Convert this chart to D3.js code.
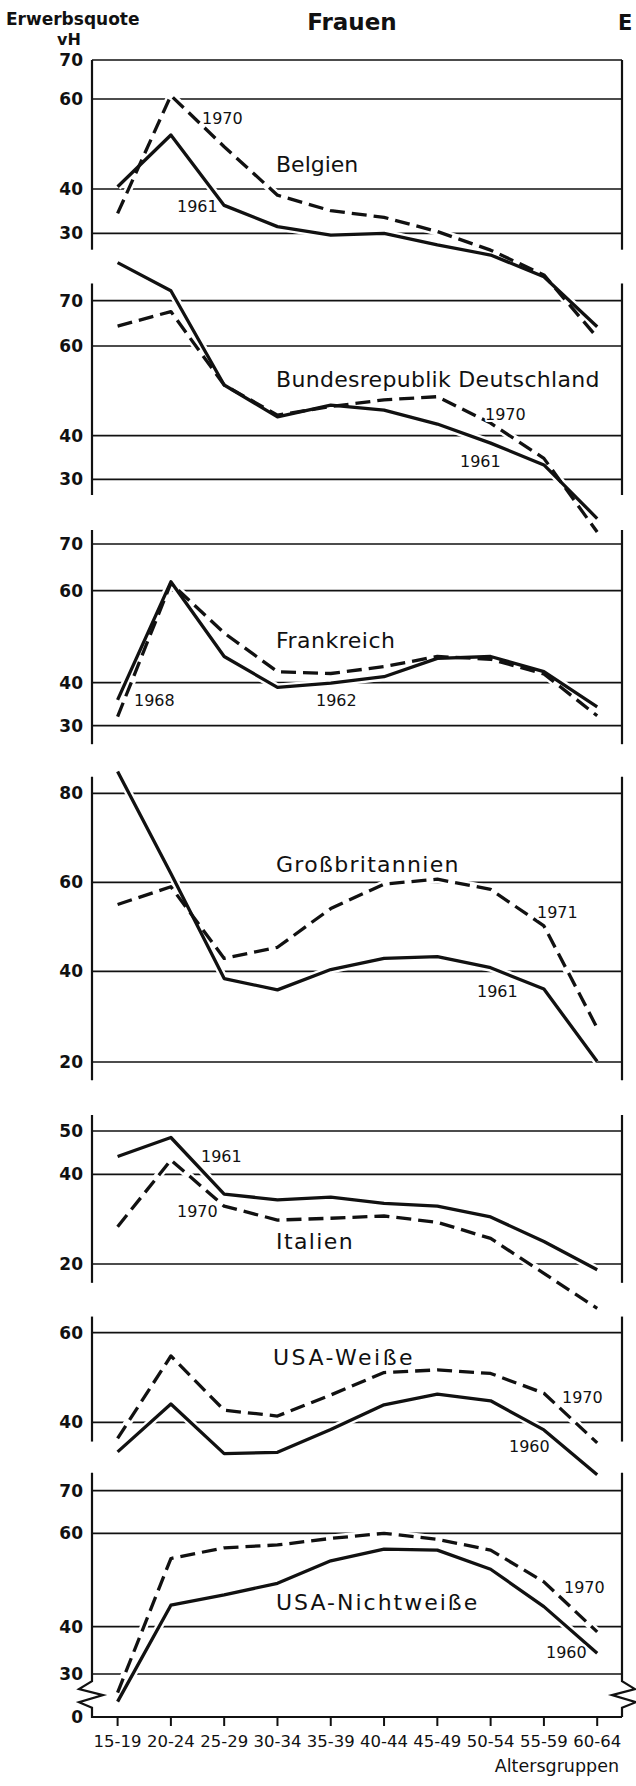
<!DOCTYPE html>
<html><head><meta charset="utf-8">
<script src="https://cdn.jsdelivr.net/npm/d3@7"></script>
<style>
body{margin:0;background:#fff}
svg{display:block;background:#fff}
text{font-family:"DejaVu Sans",sans-serif;fill:#111}
</style>
</head><body>
<svg id="chart" width="636" height="1786"></svg>
<script>
// ---------------- data ----------------
const ageGroups = ["15-19","20-24","25-29","30-34","35-39","40-44","45-49","50-54","55-59","60-64"];

const belgien1961 = [40.5, 52.0, 36.3, 31.5, 29.6, 30.0, 27.4, 25.1, 20.2, 8.9];
const belgien1970 = [34.5, 60.9, 49.4, 38.6, 35.1, 33.6, 30.4, 26.2, 20.6, 6.5];

const brd1961 = [78.4, 72.2, 51.3, 44.2, 46.8, 45.7, 42.6, 38.3, 33.3, 21.0];
const brd1970 = [64.4, 67.6, 51.3, 44.6, 46.5, 48.0, 48.7, 42.8, 34.8, 17.9];

const frankreich1962 = [36.0, 61.9, 45.7, 38.9, 39.9, 41.3, 45.3, 45.7, 42.4, 34.4];
const frankreich1968 = [32.1, 61.6, 50.8, 42.4, 42.0, 43.5, 45.7, 45.1, 41.9, 32.3];

const gb1961 = [84.9, 62.0, 38.4, 35.9, 40.4, 42.9, 43.3, 40.8, 36.1, 20.1];
const gb1971 = [55.0, 59.0, 42.9, 45.4, 54.1, 59.6, 60.7, 58.4, 50.2, 27.5];

const italien1961 = [44.1, 48.5, 35.6, 34.3, 34.9, 33.5, 32.9, 30.5, 25.0, 18.7];
const italien1970 = [28.3, 43.3, 32.9, 29.8, 30.2, 30.7, 29.3, 25.7, 17.9, 10.1];

const usaWeisse1960 = [33.4, 44.1, 33.0, 33.3, 38.4, 43.9, 46.3, 44.8, 38.3, 28.3];
const usaWeisse1970 = [36.4, 54.8, 42.7, 41.4, 46.1, 51.1, 51.7, 50.9, 46.5, 35.4];

const usaNichtweisse1960 = [10.7, 44.6, 46.8, 49.3, 54.1, 56.6, 56.4, 52.3, 44.3, 34.4];
const usaNichtweisse1970 = [17.0, 54.6, 56.9, 57.5, 58.9, 60.0, 58.7, 56.4, 49.6, 38.9];

const panelNames = ["Belgien","Bundesrepublik Deutschland","Frankreich","Großbritannien","Italien","USA-Weiße","USA-Nichtweiße"];
const solidYears  = ["1961","1961","1962","1961","1961","1960","1960"];
const dashedYears = ["1970","1970","1968","1971","1970","1970","1970"];
const solidSeries  = [belgien1961, brd1961, frankreich1962, gb1961, italien1961, usaWeisse1960, usaNichtweisse1960];
const dashedSeries = [belgien1970, brd1970, frankreich1968, gb1971, italien1970, usaWeisse1970, usaNichtweisse1970];
const yTicks = [[30,40,60,70],[30,40,60,70],[30,40,60,70],[20,40,60,80],[20,40,50],[40,60],[30,40,60,70]];

const titleText = "Frauen";
const yAxisTitle = "Erwerbsquote";
const yAxisUnit = "vH";
const xAxisTitle = "Altersgruppen";
const edgeText = "E";

// ---------------- layout (positions only) ----------------
const axisX = [92, 622];
const xRange = [117.6, 597.2];
const panelLayout = [
  {gridPx:[233.3,189,99,60],        ext:[26.3,70],   name:[276,171.7], solidLbl:[177,211.7], dashLbl:[202,124],  ls:0},
  {gridPx:[479.3,435.7,346,300.7],  ext:[26.4,73.8], name:[276,386.7], solidLbl:[460,466.7], dashLbl:[485,420],  ls:0.3},
  {gridPx:[725.7,682.7,590.7,544],  ext:[25.7,73],   name:[276,648],   solidLbl:[316,706],   dashLbl:[134,706],  ls:0.5},
  {gridPx:[1062,971.3,882.3,793.3], ext:[16,83.7],   name:[276,871.7], solidLbl:[477,996.7], dashLbl:[537,918],  ls:1.3},
  {gridPx:[1264,1174.3,1131],       ext:[15.8,53.7], name:[276,1249],  solidLbl:[201,1161.7],dashLbl:[177,1216.7],ls:1.4},
  {gridPx:[1422.3,1332.7],          ext:[35.7,63.6], name:[273,1365],  solidLbl:[509,1451.7],dashLbl:[562,1403], ls:2.5},
  {gridPx:[1674,1626.7,1533.3,1490.7], ext:[0,74.2], name:[276,1610],  solidLbl:[546,1658],  dashLbl:[564,1593], ls:2}
];
const bottomPanel = 6;
const bottomZeroPx = 1717;

// ---------------- drawing ----------------
const svg = d3.select("#chart");
const x = d3.scalePoint().domain(ageGroups).range(xRange);

const gGrid = svg.append("g");
const gAxis = svg.append("g");
const gHalo = svg.append("g");
const gLines = svg.append("g");
const gText = svg.append("g");

panelNames.forEach((name, i) => {
  const L = panelLayout[i];
  const ticks = yTicks[i];
  let dom = ticks.slice(), rng = L.gridPx.slice();
  if (i === bottomPanel) { dom = [0].concat(dom); rng = [bottomZeroPx].concat(rng); }
  const y = d3.scaleLinear().domain(dom).range(rng);

  // gridlines
  gGrid.selectAll(null).data(ticks).enter().append("line")
    .attr("x1", axisX[0]).attr("x2", axisX[1])
    .attr("y1", d => y(d)).attr("y2", d => y(d))
    .attr("stroke", "#111").attr("stroke-width", 1.7);

  // y tick labels
  const lblTicks = (i === bottomPanel) ? [0].concat(ticks) : ticks;
  gText.selectAll(null).data(lblTicks).enter().append("text")
    .attr("x", 83).attr("y", d => y(d)).attr("dy", "0.36em")
    .attr("text-anchor", "end").attr("font-size", 17).attr("font-weight", "bold")
    .text(d => d);

  // vertical axes
  if (i !== bottomPanel) {
    axisX.forEach(ax => {
      gAxis.append("line").attr("x1", ax).attr("x2", ax)
        .attr("y1", y(L.ext[0])).attr("y2", y(L.ext[1]))
        .attr("stroke", "#111").attr("stroke-width", 2.2);
    });
  } else {
    const yTop = y(L.ext[1]), yb1 = y(25), yb2 = y(6.5), y0 = y(0);
    const zl = axisX[0];
    gAxis.append("path")
      .attr("d", `M${zl},${yTop}L${zl},${yb1}L${zl-13},${yb1+8}L${zl+11},${yb1+14}L${zl-13},${yb1+21}L${zl},${yb2}L${zl},${y0}L${axisX[1]},${y0}`)
      .attr("fill", "none").attr("stroke", "#111").attr("stroke-width", 2.2).attr("stroke-linejoin", "miter");
    const zr = axisX[1];
    gAxis.append("path")
      .attr("d", `M${zr},${yTop}L${zr},${yb1}L${zr+13},${yb1+8}L${zr-10},${yb1+14}L${zr+14},${yb1+21}L${zr},${yb2}L${zr},${y0}`)
      .attr("fill", "none").attr("stroke", "#111").attr("stroke-width", 2.2);
    // x ticks
    gAxis.selectAll(null).data(ageGroups).enter().append("line")
      .attr("x1", d => x(d)).attr("x2", d => x(d))
      .attr("y1", y0).attr("y2", y0 + 9)
      .attr("stroke", "#111").attr("stroke-width", 2);
    gText.selectAll(null).data(ageGroups).enter().append("text")
      .attr("x", d => x(d)).attr("y", y0 + 30)
      .attr("text-anchor", "middle").attr("font-size", 16.5)
      .text(d => d);
    gText.append("text").attr("x", 619).attr("y", y0 + 55)
      .attr("text-anchor", "end").attr("font-size", 17.5).text(xAxisTitle);
  }

  // lines
  const line = d3.line().x((d, k) => x(ageGroups[k])).y(d => y(d));
  [solidSeries[i], dashedSeries[i]].forEach(vals => {
    gHalo.append("path").datum(vals).attr("d", line)
      .attr("fill", "none").attr("stroke", "#fff").attr("stroke-width", 8)
      .attr("stroke-linejoin", "round");
  });
  gLines.append("path").datum(solidSeries[i]).attr("d", line)
    .attr("fill", "none").attr("stroke", "#111").attr("stroke-width", 3.3)
    .attr("stroke-linejoin", "round");
  gLines.append("path").datum(dashedSeries[i]).attr("d", line)
    .attr("fill", "none").attr("stroke", "#111").attr("stroke-width", 3.3)
    .attr("stroke-dasharray", "15,7").attr("stroke-linejoin", "round");

  // labels
  const halo = sel => sel.attr("stroke", "#fff").attr("stroke-width", 4)
    .attr("paint-order", "stroke").attr("stroke-linejoin", "round");
  gText.append("text").attr("x", L.name[0]).attr("y", L.name[1])
    .attr("font-size", 22).attr("letter-spacing", L.ls).call(halo).text(name);
  gText.append("text").attr("x", L.solidLbl[0]).attr("y", L.solidLbl[1])
    .attr("font-size", 16).call(halo).text(solidYears[i]);
  gText.append("text").attr("x", L.dashLbl[0]).attr("y", L.dashLbl[1])
    .attr("font-size", 16).call(halo).text(dashedYears[i]);
});

// titles
svg.append("text").attr("x", 6).attr("y", 25).attr("font-size", 17).attr("font-weight", "bold").text(yAxisTitle);
svg.append("text").attr("x", 69).attr("y", 45).attr("text-anchor", "middle").attr("font-size", 16).attr("font-weight", "bold").text(yAxisUnit);
svg.append("text").attr("x", 352).attr("y", 30).attr("text-anchor", "middle").attr("font-size", 23).attr("font-weight", "bold").text(titleText);
svg.append("text").attr("x", 618).attr("y", 30).attr("font-size", 21).attr("font-weight", "bold").text(edgeText);
</script>
</body></html>
